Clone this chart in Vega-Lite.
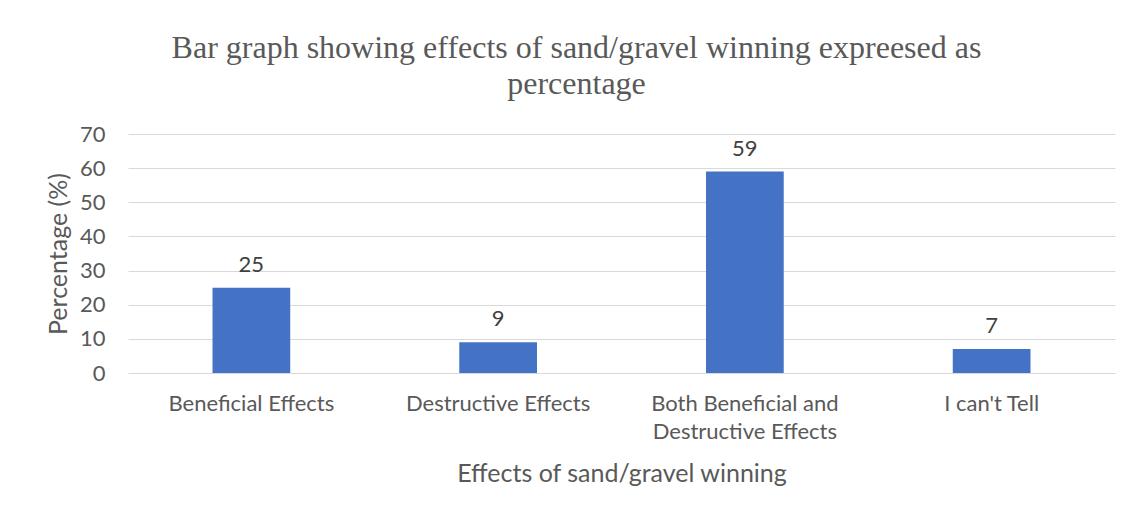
{
  "$schema": "https://vega.github.io/schema/vega-lite/v6.json",
  "autosize": {"type": "none"},
  "width": 987,
  "height": 239,
  "padding": {"left": 128, "top": 134, "right": 17, "bottom": 143},
  "background": "white",
  "title": {
    "text": ["Bar graph showing effects of sand/gravel winning expreesed as", "percentage"],
    "font": "Liberation Serif",
    "fontSize": 32,
    "fontWeight": "normal",
    "color": "#595959",
    "anchor": "middle",
    "dx": -45,
    "offset": 22,
    "lineHeight": 36
  },
  "data": {
    "values": [
      {"effect": "Beneficial Effects", "pct": 25},
      {"effect": "Destructive Effects", "pct": 9},
      {"effect": "Both Beneficial and Destructive Effects", "pct": 59},
      {"effect": "I can't Tell", "pct": 7}
    ]
  },
  "config": {
    "view": {"stroke": null},
    "font": "Lato"
  },
  "encoding": {
    "x": {
      "field": "effect",
      "type": "nominal",
      "sort": null,
      "scale": {"paddingInner": 0.685, "paddingOuter": 0.3425},
      "axis": {
        "title": "Effects of sand/gravel winning",
        "titleFont": "Lato",
        "titleFontSize": 25,
        "titleFontWeight": "normal",
        "titleColor": "#595959",
        "titleY": 100,
        "titleBaseline": "middle",
        "labelAngle": 0,
        "labelFont": "Lato",
        "labelFontSize": 22,
        "labelColor": "#595959",
        "labelPadding": 20,
        "labelBaseline": "top",
        "labelLineHeight": 28,
        "labelLimit": 0,
        "labelExpr": "datum.label == 'Both Beneficial and Destructive Effects' ? ['Both Beneficial and', 'Destructive Effects'] : datum.label",
        "domain": false,
        "ticks": false
      }
    },
    "y": {
      "field": "pct",
      "type": "quantitative",
      "scale": {"domain": [0, 70]},
      "axis": {
        "title": "Percentage (%)",
        "titleFont": "Lato",
        "titleFontSize": 25,
        "titleFontWeight": "normal",
        "titleColor": "#595959",
        "titleX": -70,
        "titleBaseline": "middle",
        "values": [0, 10, 20, 30, 40, 50, 60, 70],
        "labelFont": "Lato",
        "labelFontSize": 22,
        "labelColor": "#595959",
        "labelPadding": 23,
        "domain": false,
        "ticks": false,
        "grid": true,
        "gridColor": "#d9d9d9",
        "gridWidth": 1
      }
    }
  },
  "layer": [
    {"mark": {"type": "bar", "color": "#4472c4"}},
    {
      "mark": {"type": "text", "baseline": "alphabetic", "dy": -16, "fontSize": 22, "font": "Lato", "color": "#404040"},
      "encoding": {"text": {"field": "pct", "type": "quantitative"}}
    }
  ]
}
